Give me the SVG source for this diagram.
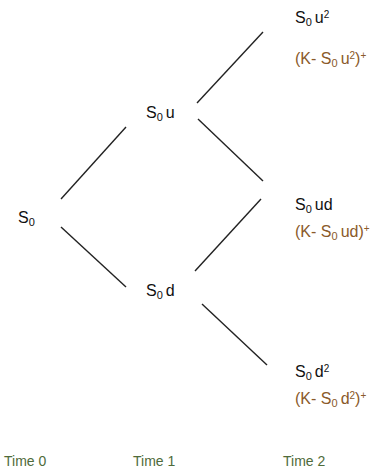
<svg xmlns="http://www.w3.org/2000/svg" width="378" height="471" viewBox="0 0 378 471">
<style>
text{font-family:"Liberation Sans",Arial,sans-serif;font-size:16px;fill:#111}
.pay{fill:#8a5a2a}
.time{fill:#4f6b3a;font-size:14px}
.sub{font-size:11px}
.sup{font-size:10px}
.gap{font-size:11px}
#edges line{stroke:#222;stroke-width:1.4}
</style>
<rect width="378" height="471" fill="#fff"/>
<g id="edges">
<line x1="61" y1="199" x2="126" y2="127"/>
<line x1="61" y1="227" x2="126" y2="287"/>
<line x1="197" y1="103" x2="263" y2="32"/>
<line x1="198" y1="119" x2="263" y2="181"/>
<line x1="195" y1="271" x2="261" y2="199"/>
<line x1="202" y1="304" x2="267" y2="365"/>
</g>
<g id="n-s0"><text x="18" y="223">S<tspan class="sub" dy="3">0</tspan></text></g>
<g id="n-s0u"><text x="146" y="118">S<tspan class="sub" dy="3">0 </tspan><tspan dy="-3">u</tspan></text></g>
<g id="n-s0d"><text x="146" y="296">S<tspan class="sub" dy="3">0 </tspan><tspan dy="-3">d</tspan></text></g>
<g id="n-s0u2">
<text x="295" y="23">S<tspan class="sub" dy="3">0 </tspan><tspan dy="-3">u</tspan><tspan class="sup" dy="-5">2</tspan></text>
<text class="pay" x="295" y="64">(K- S<tspan class="sub" dy="3">0 </tspan><tspan dy="-3">u</tspan><tspan class="sup" dy="-5">2</tspan><tspan dy="5">)</tspan><tspan class="sup" dy="-5">+</tspan></text>
</g>
<g id="n-s0ud">
<text x="295" y="210">S<tspan class="sub" dy="3">0 </tspan><tspan dy="-3">ud</tspan></text>
<text class="pay" x="295" y="237">(K- S<tspan class="sub" dy="3">0 </tspan><tspan dy="-3">ud)</tspan><tspan class="sup" dy="-5">+</tspan></text>
</g>
<g id="n-s0d2">
<text x="295" y="377">S<tspan class="sub" dy="3">0 </tspan><tspan dy="-3">d</tspan><tspan class="sup" dy="-5">2</tspan></text>
<text class="pay" x="295" y="404">(K- S<tspan class="sub" dy="3">0 </tspan><tspan dy="-3">d</tspan><tspan class="sup" dy="-5">2</tspan><tspan dy="5">)</tspan><tspan class="sup" dy="-5">+</tspan></text>
</g>
<g id="times">
<text class="time" x="4" y="466">Time 0</text>
<text class="time" x="133" y="466">Time 1</text>
<text class="time" x="283" y="466">Time 2</text>
</g>
</svg>
